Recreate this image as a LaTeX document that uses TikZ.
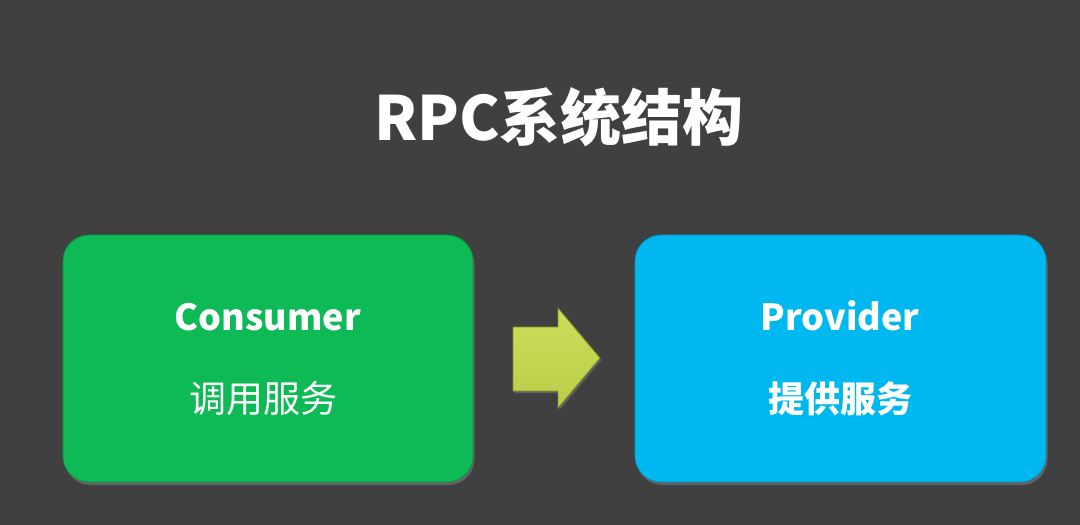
\documentclass[tikz,border=0pt]{standalone}
\usepackage{fontspec}
\setmainfont{Noto Sans CJK SC}
\usetikzlibrary{shadows}
\definecolor{bg}{HTML}{404040}
\definecolor{boxgreen}{HTML}{0DBA55}
\definecolor{boxblue}{HTML}{00B8F0}
\definecolor{arrowfill}{HTML}{C6D94C}
\definecolor{arrowedge}{HTML}{7E8E25}
\tikzset{
  card/.style={rounded corners=26pt, drop shadow={opacity=0.55, shadow xshift=1.5pt, shadow yshift=-3pt}},
  label/.style={text=white, inner sep=0pt, anchor=base},
}
\begin{document}
\begin{tikzpicture}[x=1pt,y=-1pt]
\fill[bg] (0,0) rectangle (1080,525);
\useasboundingbox (0,0) rectangle (1080,525);
% title
\node[label, font=\fontsize{61}{70}\selectfont\bfseries] (title) at (559,140) {RPC系统结构};
% boxes
\path[card, fill=boxgreen, draw=boxgreen!80!black, line width=0.6pt] (63,235) rectangle (473,482);
\path[card, fill=boxblue, draw=boxblue!80!black, line width=0.6pt] (635,235) rectangle (1046,482);
\node[label, font=\fontsize{36}{44}\selectfont\bfseries] (cons) at (268,330) {Consumer};
\node[label, font=\fontsize{37}{44}\selectfont] (consub) at (263,412) {调用服务};
\node[label, font=\fontsize{36}{44}\selectfont\bfseries] (prov) at (840,330) {Provider};
\node[label, font=\fontsize{36}{44}\selectfont\bfseries] (provsub) at (840,412) {提供服务};
% block arrow
\path[top color=arrowfill!92!white, bottom color=arrowfill!95!black, draw=arrowedge, line width=0.8pt,
      drop shadow={opacity=0.5, shadow xshift=1.5pt, shadow yshift=-2pt}]
  (513,327) -- (558,327) -- (558,308) -- (600,358) -- (558,408) -- (558,391) -- (513,391) -- cycle;
\end{tikzpicture}
\end{document}
